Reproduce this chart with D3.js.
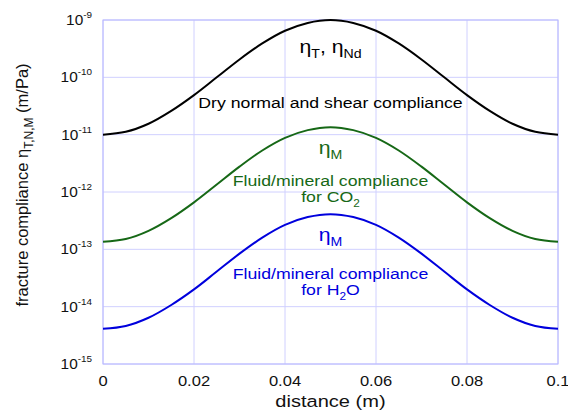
<!DOCTYPE html>
<html><head><meta charset="utf-8">
<script src="https://cdn.jsdelivr.net/npm/d3@7"></script>
<style>body{margin:0;background:#fff}svg{display:block}text{font-family:Arial,"Liberation Sans",sans-serif}</style>
</head><body><svg id="c" width="568" height="417"></svg>
<script>
const distance = [0,0.005,0.01,0.015,0.02,0.025,0.03,0.035,0.04,0.045,0.05,0.055,0.06,0.065,0.07,0.075,0.08,0.085,0.09,0.095,0.1];
const dryCompliance = [1.0e-11,1.12e-11,1.55e-11,2.6e-11,4.9e-11,1.0e-10,2.05e-10,3.9e-10,6.5e-10,8.9e-10,1.0e-9,8.9e-10,6.5e-10,3.9e-10,2.05e-10,1.0e-10,4.9e-11,2.6e-11,1.55e-11,1.12e-11,1.0e-11];
const co2Compliance = [1.35e-13,1.51e-13,2.1e-13,3.5e-13,6.6e-13,1.35e-12,2.77e-12,5.3e-12,8.8e-12,1.2e-11,1.35e-11,1.2e-11,8.8e-12,5.3e-12,2.77e-12,1.35e-12,6.6e-13,3.5e-13,2.1e-13,1.51e-13,1.35e-13];
const h2oCompliance = [4.1e-15,4.6e-15,6.4e-15,1.07e-14,2.0e-14,4.1e-14,8.4e-14,1.6e-13,2.67e-13,3.65e-13,4.1e-13,3.65e-13,2.67e-13,1.6e-13,8.4e-14,4.1e-14,2.0e-14,1.07e-14,6.4e-15,4.6e-15,4.1e-15];
const xTicks = [0,0.02,0.04,0.06,0.08,0.1];
const xTickLabels = ["0","0.02","0.04","0.06","0.08","0.1"];
const yTicks = [1e-15,1e-14,1e-13,1e-12,1e-11,1e-10,1e-9];
const yTickExps = ["-15","-14","-13","-12","-11","-10","-9"];

const svg = d3.select("#c");
const L=103, R=558, T=20, B=364;
const x = d3.scaleLinear().domain([0,0.1]).range([L,R]);
const y = d3.scaleLog().domain([1e-15,1e-9]).range([B,T]);
const grid = "#d0d0ff";
const SX = 1.18;

// grid
svg.append("g").selectAll("line").data(xTicks).join("line")
  .attr("x1",d=>x(d)).attr("x2",d=>x(d)).attr("y1",T).attr("y2",B)
  .attr("stroke",grid).attr("stroke-width",1);
svg.append("g").selectAll("line").data(yTicks).join("line")
  .attr("x1",L).attr("x2",R).attr("y1",d=>y(d)).attr("y2",d=>y(d))
  .attr("stroke",grid).attr("stroke-width",1);
svg.append("rect").attr("x",L).attr("y",T).attr("width",R-L).attr("height",B-T)
  .attr("fill","none").attr("stroke","#b8b8ff").attr("stroke-width",1);

// x tick labels
svg.append("g").selectAll("text").data(xTicks).join("text")
  .attr("transform",d=>`translate(${x(d)},${B+22}) scale(${SX},1)`).attr("text-anchor","middle")
  .attr("font-size",14).attr("fill","#111").text((d,i)=>xTickLabels[i]);
// y tick labels
const yl = svg.append("g").selectAll("text").data(yTicks).join("text")
  .attr("transform",d=>`translate(92,${y(d)+5}) scale(1.1,1)`).attr("text-anchor","end")
  .attr("font-size",14).attr("fill","#111");
yl.append("tspan").text("10");
yl.append("tspan").attr("dy",-7).attr("font-size",9).text((d,i)=>yTickExps[i]);

// axis titles
svg.append("text").attr("transform",`translate(${x(0.05)},407) scale(${SX},1)`).attr("text-anchor","middle")
  .attr("font-size",17).attr("fill","#111").text("distance (m)");
const yt = svg.append("text").attr("transform","translate(28,185) rotate(-90)")
  .attr("text-anchor","middle").attr("font-size",16.5).attr("fill","#111");
yt.append("tspan").text("fracture compliance η");
yt.append("tspan").attr("dy",5).attr("font-size",12).text("T,N,M");
yt.append("tspan").attr("dy",-5).text(" (m/Pa)");

// lines
const line = d3.line().x((d,i)=>x(distance[i])).y(d=>y(d)).curve(d3.curveCatmullRom);
const series = [
  {v:dryCompliance,c:"#000000"},
  {v:co2Compliance,c:"#166816"},
  {v:h2oCompliance,c:"#0000dd"}
];
svg.append("g").selectAll("path").data(series).join("path")
  .attr("d",d=>line(d.v)).attr("fill","none").attr("stroke",d=>d.c).attr("stroke-width",2);

// annotations
const cx = x(0.05);
function label(yb, color, size, parts){
  const t = svg.append("text").attr("transform",`translate(${cx},${yb}) scale(${SX},1)`)
    .attr("text-anchor","middle").attr("font-size",size).attr("fill",color);
  parts.forEach(p=>{
    const s=t.append("tspan").text(p[0]);
    if(p[1]) s.attr("dy",p[1]);
    if(p[2]) s.attr("font-size",p[2]);
  });
}
label(53,"#000",18,[["η"],["T",5,12],[", η",-5],["Nd",5,12]]);
label(108,"#000",15,[["Dry normal and shear compliance"]]);
label(154,"#166816",18,[["η"],["M",5,12]]);
label(186,"#166816",15,[["Fluid/mineral compliance"]]);
label(202,"#166816",15,[["for CO"],["2",5,10]]);
label(241,"#0000dd",18,[["η"],["M",5,12]]);
label(279,"#0000dd",15,[["Fluid/mineral compliance"]]);
label(295,"#0000dd",15,[["for H"],["2",5,10],["O",-5]]);
</script></body></html>
